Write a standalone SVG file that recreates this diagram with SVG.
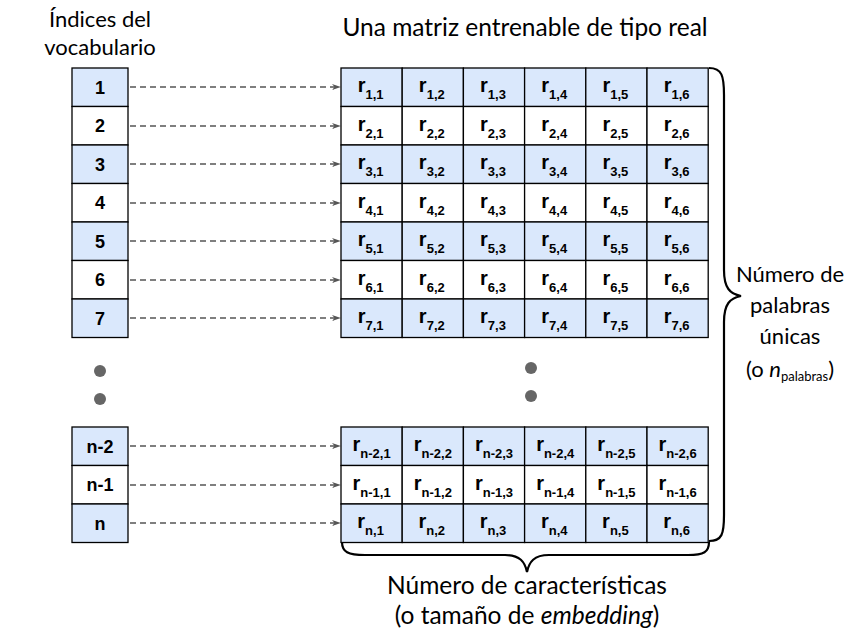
<svg xmlns="http://www.w3.org/2000/svg" width="854" height="637" viewBox="0 0 854 637">
<style>
.b{fill:#dae8fc;stroke:#000;stroke-width:1.3}
.w{fill:#fff;stroke:#000;stroke-width:1.3}
.idx{font-family:"Liberation Sans",Arial,sans-serif;font-weight:bold;font-size:18px;text-anchor:middle;fill:#000}
.r{font-family:"Liberation Sans",Arial,sans-serif;font-weight:bold;font-size:20px;text-anchor:middle;fill:#000}
.s{font-size:13px}
.lbl{font-family:Lato,"Open Sans",sans-serif;font-size:22px;text-anchor:middle;fill:#000}
.big{font-size:24.5px}
.arr{stroke:#555;stroke-width:1.5;stroke-dasharray:6 4;fill:none}
.dot{fill:#666}
.brace{fill:none;stroke:#000;stroke-width:2.2}
</style>
<defs>
<marker id="ah" viewBox="0 0 10 10" refX="9" refY="5" markerWidth="9" markerHeight="9" markerUnits="userSpaceOnUse" orient="auto">
<path d="M0,1.5 L10,5 L0,8.5 L3,5 Z" fill="#555"/>
</marker>
</defs>
<rect width="854" height="637" fill="#fff"/>
<text class="lbl" x="100" y="27">Índices del</text>
<text class="lbl" x="100" y="55">vocabulario</text>
<text class="lbl big" x="525" y="36">Una matriz entrenable de tipo real</text>

<g id="indices">
<g id="idx1"><rect class="b" x="72" y="68" width="56" height="38.5"/><text class="idx" x="100" y="93.5">1</text></g>
<g id="idx2"><rect class="w" x="72" y="106.5" width="56" height="38.5"/><text class="idx" x="100" y="132">2</text></g>
<g id="idx3"><rect class="b" x="72" y="145" width="56" height="38.5"/><text class="idx" x="100" y="170.5">3</text></g>
<g id="idx4"><rect class="w" x="72" y="183.5" width="56" height="38.5"/><text class="idx" x="100" y="209">4</text></g>
<g id="idx5"><rect class="b" x="72" y="222" width="56" height="38.5"/><text class="idx" x="100" y="247.5">5</text></g>
<g id="idx6"><rect class="w" x="72" y="260.5" width="56" height="38.5"/><text class="idx" x="100" y="286">6</text></g>
<g id="idx7"><rect class="b" x="72" y="299" width="56" height="38.5"/><text class="idx" x="100" y="324.5">7</text></g>
<g id="idxn2"><rect class="b" x="72" y="427" width="56" height="38.5"/><text class="idx" x="100" y="452.5">n-2</text></g>
<g id="idxn1"><rect class="w" x="72" y="465.5" width="56" height="38.5"/><text class="idx" x="100" y="491">n-1</text></g>
<g id="idxn"><rect class="b" x="72" y="504" width="56" height="38.5"/><text class="idx" x="100" y="529.5">n</text></g>
</g>

<g id="dots">
<circle class="dot" cx="100" cy="371" r="6"/>
<circle class="dot" cx="100" cy="399" r="6"/>
<circle class="dot" cx="531" cy="368" r="6"/>
<circle class="dot" cx="531" cy="396" r="6"/>
</g>

<g id="connectors">
<line class="arr" x1="130" y1="87" x2="340" y2="87" marker-end="url(#ah)"/>
<line class="arr" x1="130" y1="126" x2="340" y2="126" marker-end="url(#ah)"/>
<line class="arr" x1="130" y1="164" x2="340" y2="164" marker-end="url(#ah)"/>
<line class="arr" x1="130" y1="203" x2="340" y2="203" marker-end="url(#ah)"/>
<line class="arr" x1="130" y1="241" x2="340" y2="241" marker-end="url(#ah)"/>
<line class="arr" x1="130" y1="280" x2="340" y2="280" marker-end="url(#ah)"/>
<line class="arr" x1="130" y1="318" x2="340" y2="318" marker-end="url(#ah)"/>
<line class="arr" x1="130" y1="446" x2="340" y2="446" marker-end="url(#ah)"/>
<line class="arr" x1="130" y1="485" x2="340" y2="485" marker-end="url(#ah)"/>
<line class="arr" x1="130" y1="523" x2="340" y2="523" marker-end="url(#ah)"/>
</g>

<g id="matrix">
<g id="row1">
<rect class="b" x="341" y="68" width="61.2" height="38.5"/><rect class="b" x="402.2" y="68" width="61.2" height="38.5"/><rect class="b" x="463.4" y="68" width="61.2" height="38.5"/><rect class="b" x="524.6" y="68" width="61.2" height="38.5"/><rect class="b" x="585.8" y="68" width="61.2" height="38.5"/><rect class="b" x="647" y="68" width="61.2" height="38.5"/>
<text class="r" x="370.6" y="92">r<tspan class="s" dy="7">1,1</tspan></text><text class="r" x="431.8" y="92">r<tspan class="s" dy="7">1,2</tspan></text><text class="r" x="493" y="92">r<tspan class="s" dy="7">1,3</tspan></text><text class="r" x="554.2" y="92">r<tspan class="s" dy="7">1,4</tspan></text><text class="r" x="615.4" y="92">r<tspan class="s" dy="7">1,5</tspan></text><text class="r" x="676.6" y="92">r<tspan class="s" dy="7">1,6</tspan></text>
</g>
<g id="row2">
<rect class="w" x="341" y="106.5" width="61.2" height="38.5"/><rect class="w" x="402.2" y="106.5" width="61.2" height="38.5"/><rect class="w" x="463.4" y="106.5" width="61.2" height="38.5"/><rect class="w" x="524.6" y="106.5" width="61.2" height="38.5"/><rect class="w" x="585.8" y="106.5" width="61.2" height="38.5"/><rect class="w" x="647" y="106.5" width="61.2" height="38.5"/>
<text class="r" x="370.6" y="130.5">r<tspan class="s" dy="7">2,1</tspan></text><text class="r" x="431.8" y="130.5">r<tspan class="s" dy="7">2,2</tspan></text><text class="r" x="493" y="130.5">r<tspan class="s" dy="7">2,3</tspan></text><text class="r" x="554.2" y="130.5">r<tspan class="s" dy="7">2,4</tspan></text><text class="r" x="615.4" y="130.5">r<tspan class="s" dy="7">2,5</tspan></text><text class="r" x="676.6" y="130.5">r<tspan class="s" dy="7">2,6</tspan></text>
</g>
<g id="row3">
<rect class="b" x="341" y="145" width="61.2" height="38.5"/><rect class="b" x="402.2" y="145" width="61.2" height="38.5"/><rect class="b" x="463.4" y="145" width="61.2" height="38.5"/><rect class="b" x="524.6" y="145" width="61.2" height="38.5"/><rect class="b" x="585.8" y="145" width="61.2" height="38.5"/><rect class="b" x="647" y="145" width="61.2" height="38.5"/>
<text class="r" x="370.6" y="169">r<tspan class="s" dy="7">3,1</tspan></text><text class="r" x="431.8" y="169">r<tspan class="s" dy="7">3,2</tspan></text><text class="r" x="493" y="169">r<tspan class="s" dy="7">3,3</tspan></text><text class="r" x="554.2" y="169">r<tspan class="s" dy="7">3,4</tspan></text><text class="r" x="615.4" y="169">r<tspan class="s" dy="7">3,5</tspan></text><text class="r" x="676.6" y="169">r<tspan class="s" dy="7">3,6</tspan></text>
</g>
<g id="row4">
<rect class="w" x="341" y="183.5" width="61.2" height="38.5"/><rect class="w" x="402.2" y="183.5" width="61.2" height="38.5"/><rect class="w" x="463.4" y="183.5" width="61.2" height="38.5"/><rect class="w" x="524.6" y="183.5" width="61.2" height="38.5"/><rect class="w" x="585.8" y="183.5" width="61.2" height="38.5"/><rect class="w" x="647" y="183.5" width="61.2" height="38.5"/>
<text class="r" x="370.6" y="207.5">r<tspan class="s" dy="7">4,1</tspan></text><text class="r" x="431.8" y="207.5">r<tspan class="s" dy="7">4,2</tspan></text><text class="r" x="493" y="207.5">r<tspan class="s" dy="7">4,3</tspan></text><text class="r" x="554.2" y="207.5">r<tspan class="s" dy="7">4,4</tspan></text><text class="r" x="615.4" y="207.5">r<tspan class="s" dy="7">4,5</tspan></text><text class="r" x="676.6" y="207.5">r<tspan class="s" dy="7">4,6</tspan></text>
</g>
<g id="row5">
<rect class="b" x="341" y="222" width="61.2" height="38.5"/><rect class="b" x="402.2" y="222" width="61.2" height="38.5"/><rect class="b" x="463.4" y="222" width="61.2" height="38.5"/><rect class="b" x="524.6" y="222" width="61.2" height="38.5"/><rect class="b" x="585.8" y="222" width="61.2" height="38.5"/><rect class="b" x="647" y="222" width="61.2" height="38.5"/>
<text class="r" x="370.6" y="246">r<tspan class="s" dy="7">5,1</tspan></text><text class="r" x="431.8" y="246">r<tspan class="s" dy="7">5,2</tspan></text><text class="r" x="493" y="246">r<tspan class="s" dy="7">5,3</tspan></text><text class="r" x="554.2" y="246">r<tspan class="s" dy="7">5,4</tspan></text><text class="r" x="615.4" y="246">r<tspan class="s" dy="7">5,5</tspan></text><text class="r" x="676.6" y="246">r<tspan class="s" dy="7">5,6</tspan></text>
</g>
<g id="row6">
<rect class="w" x="341" y="260.5" width="61.2" height="38.5"/><rect class="w" x="402.2" y="260.5" width="61.2" height="38.5"/><rect class="w" x="463.4" y="260.5" width="61.2" height="38.5"/><rect class="w" x="524.6" y="260.5" width="61.2" height="38.5"/><rect class="w" x="585.8" y="260.5" width="61.2" height="38.5"/><rect class="w" x="647" y="260.5" width="61.2" height="38.5"/>
<text class="r" x="370.6" y="284.5">r<tspan class="s" dy="7">6,1</tspan></text><text class="r" x="431.8" y="284.5">r<tspan class="s" dy="7">6,2</tspan></text><text class="r" x="493" y="284.5">r<tspan class="s" dy="7">6,3</tspan></text><text class="r" x="554.2" y="284.5">r<tspan class="s" dy="7">6,4</tspan></text><text class="r" x="615.4" y="284.5">r<tspan class="s" dy="7">6,5</tspan></text><text class="r" x="676.6" y="284.5">r<tspan class="s" dy="7">6,6</tspan></text>
</g>
<g id="row7">
<rect class="b" x="341" y="299" width="61.2" height="38.5"/><rect class="b" x="402.2" y="299" width="61.2" height="38.5"/><rect class="b" x="463.4" y="299" width="61.2" height="38.5"/><rect class="b" x="524.6" y="299" width="61.2" height="38.5"/><rect class="b" x="585.8" y="299" width="61.2" height="38.5"/><rect class="b" x="647" y="299" width="61.2" height="38.5"/>
<text class="r" x="370.6" y="323">r<tspan class="s" dy="7">7,1</tspan></text><text class="r" x="431.8" y="323">r<tspan class="s" dy="7">7,2</tspan></text><text class="r" x="493" y="323">r<tspan class="s" dy="7">7,3</tspan></text><text class="r" x="554.2" y="323">r<tspan class="s" dy="7">7,4</tspan></text><text class="r" x="615.4" y="323">r<tspan class="s" dy="7">7,5</tspan></text><text class="r" x="676.6" y="323">r<tspan class="s" dy="7">7,6</tspan></text>
</g>
<g id="rown2">
<rect class="b" x="341" y="427" width="61.2" height="38.5"/><rect class="b" x="402.2" y="427" width="61.2" height="38.5"/><rect class="b" x="463.4" y="427" width="61.2" height="38.5"/><rect class="b" x="524.6" y="427" width="61.2" height="38.5"/><rect class="b" x="585.8" y="427" width="61.2" height="38.5"/><rect class="b" x="647" y="427" width="61.2" height="38.5"/>
<text class="r" x="371.6" y="451">r<tspan class="s" dy="7">n-2,1</tspan></text><text class="r" x="432.8" y="451">r<tspan class="s" dy="7">n-2,2</tspan></text><text class="r" x="494" y="451">r<tspan class="s" dy="7">n-2,3</tspan></text><text class="r" x="555.2" y="451">r<tspan class="s" dy="7">n-2,4</tspan></text><text class="r" x="616.4" y="451">r<tspan class="s" dy="7">n-2,5</tspan></text><text class="r" x="677.6" y="451">r<tspan class="s" dy="7">n-2,6</tspan></text>
</g>
<g id="rown1">
<rect class="w" x="341" y="465.5" width="61.2" height="38.5"/><rect class="w" x="402.2" y="465.5" width="61.2" height="38.5"/><rect class="w" x="463.4" y="465.5" width="61.2" height="38.5"/><rect class="w" x="524.6" y="465.5" width="61.2" height="38.5"/><rect class="w" x="585.8" y="465.5" width="61.2" height="38.5"/><rect class="w" x="647" y="465.5" width="61.2" height="38.5"/>
<text class="r" x="371.6" y="489.5">r<tspan class="s" dy="7">n-1,1</tspan></text><text class="r" x="432.8" y="489.5">r<tspan class="s" dy="7">n-1,2</tspan></text><text class="r" x="494" y="489.5">r<tspan class="s" dy="7">n-1,3</tspan></text><text class="r" x="555.2" y="489.5">r<tspan class="s" dy="7">n-1,4</tspan></text><text class="r" x="616.4" y="489.5">r<tspan class="s" dy="7">n-1,5</tspan></text><text class="r" x="677.6" y="489.5">r<tspan class="s" dy="7">n-1,6</tspan></text>
</g>
<g id="rown">
<rect class="b" x="341" y="504" width="61.2" height="38.5"/><rect class="b" x="402.2" y="504" width="61.2" height="38.5"/><rect class="b" x="463.4" y="504" width="61.2" height="38.5"/><rect class="b" x="524.6" y="504" width="61.2" height="38.5"/><rect class="b" x="585.8" y="504" width="61.2" height="38.5"/><rect class="b" x="647" y="504" width="61.2" height="38.5"/>
<text class="r" x="370.6" y="528">r<tspan class="s" dy="7">n,1</tspan></text><text class="r" x="431.8" y="528">r<tspan class="s" dy="7">n,2</tspan></text><text class="r" x="493" y="528">r<tspan class="s" dy="7">n,3</tspan></text><text class="r" x="554.2" y="528">r<tspan class="s" dy="7">n,4</tspan></text><text class="r" x="615.4" y="528">r<tspan class="s" dy="7">n,5</tspan></text><text class="r" x="676.6" y="528">r<tspan class="s" dy="7">n,6</tspan></text>
</g>
</g>

<g id="brace-right">
<path class="brace" d="M709,68 C722,68 724,76 724,95 L724,270 C724,288 730,294 741,296 C730,298 724,304 724,322 L724,515 C724,534 722,541 709,541"/>
<text class="lbl" x="790" y="282">Número de</text>
<text class="lbl" x="790" y="313">palabras</text>
<text class="lbl" x="790" y="344">únicas</text>
<text class="lbl" x="790" y="377">(o <tspan font-style="italic">n</tspan><tspan font-size="13" dy="4">palabras</tspan><tspan dy="-4">)</tspan></text>
</g>

<g id="brace-bottom">
<path class="brace" d="M342,542 C342,552 348,555 365,555 L505,555 C520,555 525,562 527,572 C529,562 534,555 549,555 L688,555 C704,555 709,552 709,542"/>
<text class="lbl big" x="527" y="594">Número de características</text>
<text class="lbl big" x="527" y="624">(o tamaño de <tspan font-style="italic">embedding</tspan>)</text>
</g>
</svg>
